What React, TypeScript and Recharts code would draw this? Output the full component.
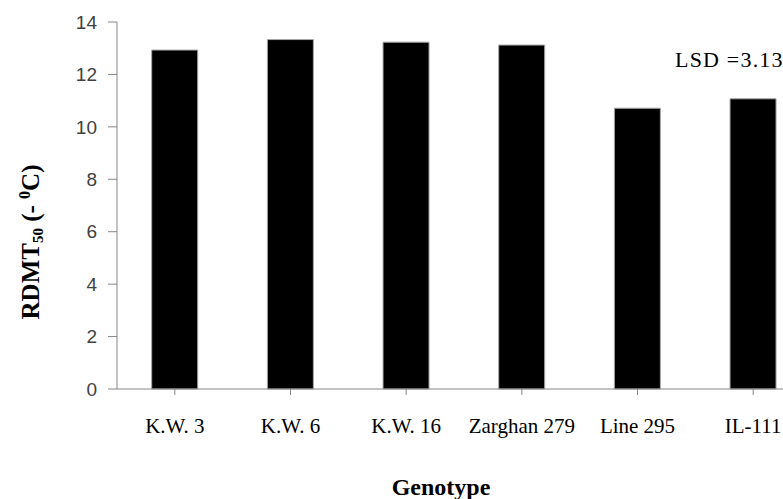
import React from 'react';
import { BarChart, Bar, XAxis, YAxis, Label } from 'recharts';

const genotypes = ['K.W. 3', 'K.W. 6', 'K.W. 16', 'Zarghan 279', 'Line 295', 'IL-111'];
const rdmt50 = [12.93, 13.33, 13.23, 13.12, 10.71, 11.07];
const yTicks = [0, 2, 4, 6, 8, 10, 12, 14];
const lsdText = 'LSD =3.13';

const chartData = genotypes.map((name, i) => ({ name, value: rdmt50[i] }));

const serif = "'Liberation Serif', 'Times New Roman', serif";

// rotated y title with subscript 50 and superscript 0
const YTitle = () => (
  <text
    transform="translate(39, 242) rotate(-90)"
    textAnchor="middle"
    fontFamily={serif}
    fontWeight="bold"
    fontSize={25}
    fill="#000"
  >
    RDMT<tspan fontSize={15} dy={4}>50</tspan>
    <tspan dy={-4}> (- </tspan>
    <tspan fontSize={16} dy={-9}>0</tspan>
    <tspan dy={9}>C)</tspan>
  </text>
);

const XTitle = () => (
  <text x={441} y={495} textAnchor="middle" fontFamily={serif} fontWeight="bold" fontSize={24} fill="#000">
    Genotype
  </text>
);

const App: React.FC = () => {
  return (
    <div style={{ position: 'fixed', top: 0, left: 0, width: 783, height: 499, overflow: 'hidden', background: '#fff' }}>
      <BarChart
        width={830}
        height={499}
        data={chartData}
        margin={{ top: 22, right: 19, left: 0, bottom: 50 }}
        barCategoryGap="30%"
      >
        <XAxis
          dataKey="name"
          height={60}
          stroke="#868686"
          tickSize={6}
          tickMargin={23}
          interval={0}
          tick={{ fill: '#000', fontSize: 21, fontFamily: serif }}
        >
          <Label content={<XTitle />} />
        </XAxis>
        <YAxis
          width={117}
          domain={[0, 14]}
          ticks={yTicks}
          stroke="#868686"
          tickSize={9}
          tickMargin={11}
          tick={{ fill: '#404040', fontSize: 19, fontFamily: "'Liberation Sans', sans-serif" }}
        >
          <Label content={<YTitle />} />
        </YAxis>
        <Bar dataKey="value" fill="#000" stroke="#a6a6a6" strokeWidth={1} isAnimationActive={false} />
      </BarChart>
      <svg width={783} height={499} style={{ position: 'absolute', left: 0, top: 0, pointerEvents: 'none' }}>
        <text x={675} y={67} fontFamily={serif} fontSize={22} letterSpacing={1.2} fill="#000">
          {lsdText}
        </text>
      </svg>
    </div>
  );
};

export default App;
